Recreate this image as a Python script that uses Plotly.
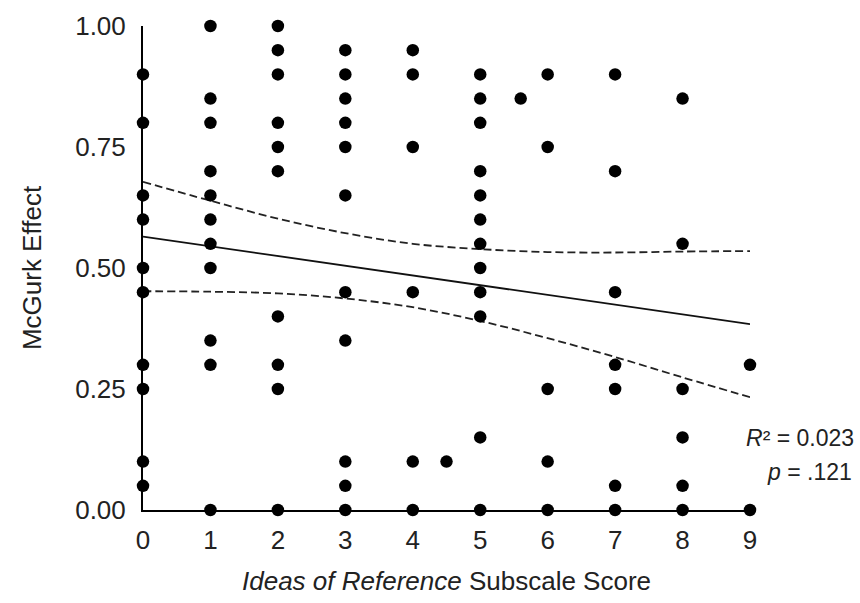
import plotly.graph_objects as go

# Participant scores (x) and McGurk effect proportions (y), grouped by score column
col_0_y = [0.90, 0.80, 0.65, 0.60, 0.50, 0.45, 0.30, 0.25, 0.10, 0.05]
col_1_y = [1.00, 0.85, 0.80, 0.70, 0.65, 0.60, 0.55, 0.50, 0.35, 0.30, 0.00]
col_2_y = [1.00, 0.95, 0.90, 0.80, 0.75, 0.70, 0.40, 0.30, 0.25, 0.00]
col_3_y = [0.95, 0.90, 0.85, 0.80, 0.75, 0.65, 0.45, 0.35, 0.10, 0.05, 0.00]
col_4_y = [0.95, 0.90, 0.75, 0.45, 0.10, 0.00]
col_4_5_y = [0.10]
col_5_y = [0.90, 0.85, 0.80, 0.70, 0.65, 0.60, 0.55, 0.50, 0.45, 0.40, 0.15, 0.00]
col_5_6_y = [0.85]
col_6_y = [0.90, 0.75, 0.25, 0.10, 0.00]
col_7_y = [0.90, 0.70, 0.45, 0.30, 0.25, 0.05, 0.00]
col_8_y = [0.85, 0.55, 0.25, 0.15, 0.05, 0.00]
col_9_y = [0.30, 0.00]

columns = [
    (0, col_0_y), (1, col_1_y), (2, col_2_y), (3, col_3_y), (4, col_4_y),
    (4.5, col_4_5_y), (5, col_5_y), (5.6, col_5_6_y), (6, col_6_y),
    (7, col_7_y), (8, col_8_y), (9, col_9_y),
]
score = [x for x, ys in columns for _ in ys]
mcgurk = [y for _, ys in columns for y in ys]

# Fitted regression line and its 95% confidence band
fit_x = [0, 9]
fit_y = [0.565, 0.384]
band_x = [0, 1, 2, 3, 4, 5, 6, 7, 8, 9]
band_upper = [0.678, 0.639, 0.602, 0.572, 0.550, 0.539, 0.533, 0.532, 0.534, 0.535]
band_lower = [0.452, 0.451, 0.4475, 0.437, 0.419, 0.3905, 0.355, 0.316, 0.274, 0.233]

y_ticks = [0, 0.25, 0.5, 0.75, 1.0]
y_tick_labels = ["0.00", "0.25", "0.50", "0.75", "1.00"]
x_ticks = list(range(10))

FONT = "Liberation Sans, Arial, sans-serif"
TEXT = "#222222"
TICK_SIZE = 26
TITLE_SIZE = 26
NOTE_SIZE = 23

fig = go.Figure()

for ys in (band_upper, band_lower):
    fig.add_trace(go.Scatter(
        x=band_x, y=ys, mode="lines", line_shape="spline",
        line=dict(color="#222222", width=1.8, dash="8px,4px"),
        hoverinfo="skip", showlegend=False, cliponaxis=False,
    ))

fig.add_trace(go.Scatter(
    x=fit_x, y=fit_y, mode="lines",
    line=dict(color="#111111", width=1.8),
    showlegend=False, cliponaxis=False,
))

fig.add_trace(go.Scatter(
    x=score, y=mcgurk, mode="markers",
    marker=dict(color="black", size=12.5, line=dict(width=0)),
    showlegend=False, cliponaxis=False,
))

fig.update_layout(
    width=860, height=603,
    margin=dict(l=142.5, r=109.5, t=26, b=93, autoexpand=False),
    paper_bgcolor="white", plot_bgcolor="white",
    font=dict(family=FONT, size=TICK_SIZE, color=TEXT),
    xaxis=dict(
        range=[0, 9], tickvals=x_ticks, showgrid=False, zeroline=False,
        showline=True, linecolor="black", linewidth=2, ticks="",
        ticklabelstandoff=6, tickfont=dict(size=TICK_SIZE),
        title=dict(text="<i>Ideas of Reference</i> Subscale Score",
                   font=dict(size=TITLE_SIZE, family=FONT, color=TEXT), standoff=18),
    ),
    yaxis=dict(
        range=[0, 1], tickvals=y_ticks, ticktext=y_tick_labels,
        showgrid=False, zeroline=False,
        showline=True, linecolor="black", linewidth=2, ticks="",
        ticklabelstandoff=10, tickfont=dict(size=TICK_SIZE),
        title=dict(text="McGurk Effect",
                   font=dict(size=TITLE_SIZE, family=FONT, color=TEXT), standoff=26),
    ),
    annotations=[
        dict(text="<i>R</i>² = 0.023", xref="paper", yref="paper",
             x=(857 - 142.5) / 608, y=(510 - 438) / 484,
             xanchor="right", yanchor="middle", showarrow=False,
             font=dict(size=NOTE_SIZE, family=FONT, color=TEXT)),
        dict(text="<i>p</i> = .121", xref="paper", yref="paper",
             x=(855 - 142.5) / 608, y=(510 - 472) / 484,
             xanchor="right", yanchor="middle", showarrow=False,
             font=dict(size=NOTE_SIZE, family=FONT, color=TEXT)),
    ],
)

fig.write_html("out.html")
